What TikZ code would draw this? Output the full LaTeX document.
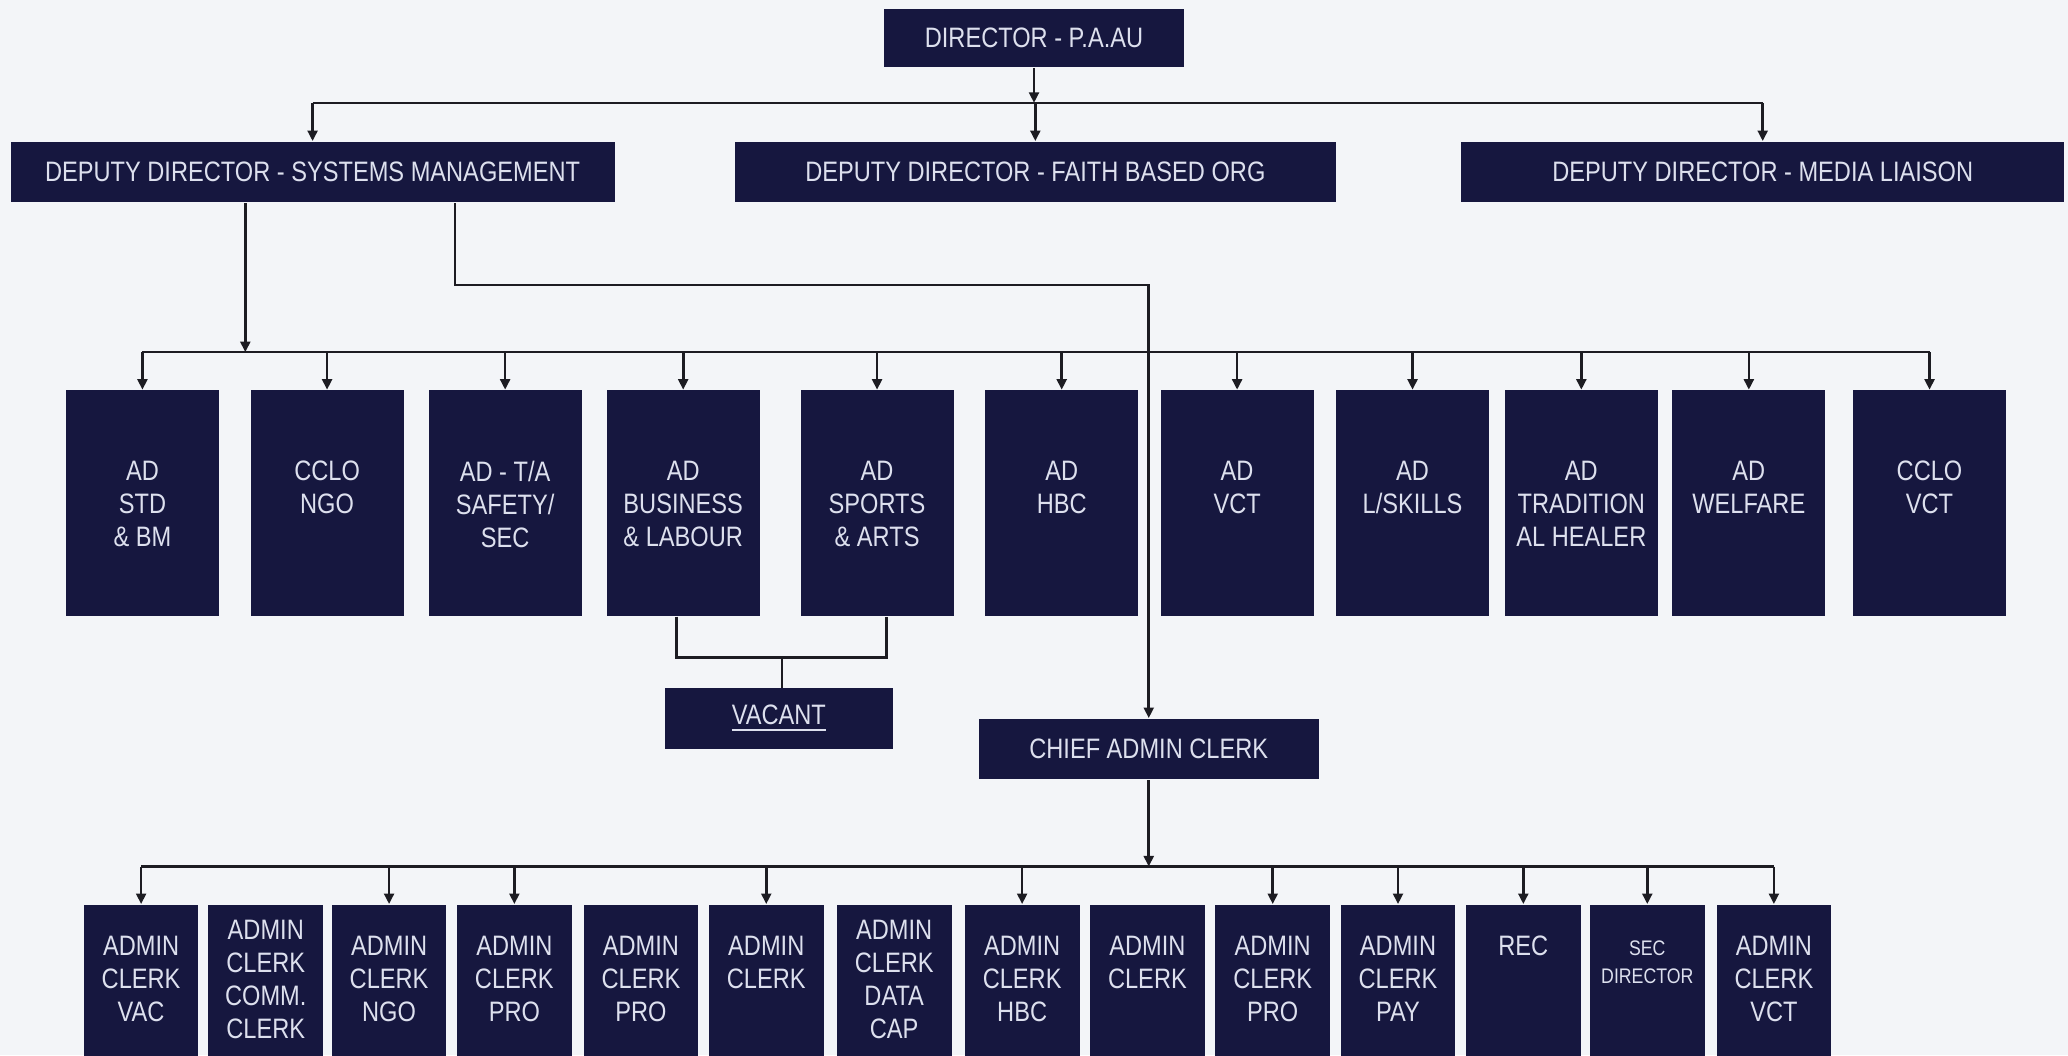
\documentclass[tikz,border=0pt]{standalone}
\usepackage{fontspec}
\setmainfont{Liberation Sans}[FakeStretch=0.84]
\usetikzlibrary{arrows.meta,positioning}
\definecolor{paauNavy}{HTML}{16173F}
\definecolor{paauText}{HTML}{DDE0EE}
\definecolor{paauInk}{HTML}{1C1C22}
\definecolor{paauPaper}{HTML}{F3F5F8}
\newdimen\pxu
\pxu=0.13189mm
\tikzset{
  every picture/.style={font=\fontsize{8}{9.4}\selectfont, text=paauText},
  paau box/.style={fill=paauNavy, inner sep=0pt, align=center},
  paau head/.style={paau box, minimum width=458\pxu, minimum height=46\pxu},
  paau ad/.style={paau box, minimum width=116\pxu, minimum height=171\pxu},
  paau clerk/.style={paau box, minimum width=87\pxu, minimum height=118\pxu},
  paau label/.style={inner sep=0pt, align=center, text=paauText},
  paau tiny/.style={paau label, font=\fontsize{6}{8.2}\selectfont},
  paau line/.style={draw=paauInk, line width=0.75pt},
  paau arrow/.style={paau line, -{Triangle[length=3pt,width=2.8pt]}}
}

\begin{document}
\begin{tikzpicture}[x=\pxu,y=\pxu]
  \useasboundingbox (0,0) rectangle (1568,-800);
  \fill[paauPaper] (0,0) rectangle (1568,-800);
  \node[paau box, minimum width=228\pxu, minimum height=44\pxu] (dir) at (784,-29) {DIRECTOR - P.A.AU};
  \node[paau head] (dd1) at (237,-130.5) {DEPUTY DIRECTOR - SYSTEMS MANAGEMENT};
  \node[paau head, minimum width=456\pxu] (dd2) at (785,-130.5) {DEPUTY DIRECTOR - FAITH BASED ORG};
  \node[paau head, minimum width=457\pxu] (dd3) at (1336.5,-130.5) {DEPUTY DIRECTOR - MEDIA LIAISON};
  \coordinate (top bus) at (0,-78);
  \coordinate (ad bus) at (0,-267);
  \coordinate (clerk bus) at (0,-657);
  \foreach \n/\x/\lbl in {ad1/108/{AD\\STD\\\& BM}, ad2/248/{CCLO\\NGO},
      ad3/383/{AD - T/A\\SAFETY/\\SEC}, ad4/518/{AD\\BUSINESS\\\& LABOUR},
      ad5/665/{AD\\SPORTS\\\& ARTS}, ad6/805/{AD\\HBC}, ad7/938/{AD\\VCT},
      ad8/1071/{AD\\L/SKILLS}, ad9/1199/{AD\\TRADITION\\AL HEALER},
      ad10/1326/{AD\\WELFARE}, ad11/1463/{CCLO\\VCT}} {
    \node[paau ad] (\n) at (\x,-381.5) {};
    \node[paau label, below=53.5\pxu of \n.north] (\n-t) {\lbl};
  }
  \node[paau box, minimum width=173\pxu, minimum height=46\pxu] (vac) at (590.5,-545) {\underline{VACANT}};
  \node[paau box, minimum width=258\pxu, minimum height=46\pxu] (cac) at (871,-568) {CHIEF ADMIN CLERK};
  \foreach \n/\x/\dy/\sty/\lbl in {c1/107/23.5/paau label/{ADMIN\\CLERK\\VAC},
      c2/201.5/11.5/paau label/{ADMIN\\CLERK\\COMM.\\CLERK},
      c3/295/23.5/paau label/{ADMIN\\CLERK\\NGO}, c4/390/23.5/paau label/{ADMIN\\CLERK\\PRO},
      c5/486/23.5/paau label/{ADMIN\\CLERK\\PRO}, c6/581/23.5/paau label/{ADMIN\\CLERK},
      c7/678/11.5/paau label/{ADMIN\\CLERK\\DATA\\CAP}, c8/775/23.5/paau label/{ADMIN\\CLERK\\HBC},
      c9/870/23.5/paau label/{ADMIN\\CLERK}, c10/965/23.5/paau label/{ADMIN\\CLERK\\PRO},
      c11/1060/23.5/paau label/{ADMIN\\CLERK\\PAY}, c12/1155/23.5/paau label/{REC},
      c13/1249/27/paau tiny/{SEC\\DIRECTOR}, c14/1345/23.5/paau label/{ADMIN\\CLERK\\VCT}} {
    \node[paau clerk] (\n) at (\x,-745) {};
    \node[\sty, below=\dy\pxu of \n.north] (\n-t) {\lbl};
  }
  \draw[paau arrow] (dir) -- (dir |- top bus);
  \draw[paau line] (dd1 |- top bus) -- (dd3 |- top bus);
  \foreach \n in {dd1,dd2,dd3}
    \draw[paau arrow] (\n |- top bus) -- (\n.north);
  \draw[paau arrow] ([xshift=-51\pxu]dd1.south) coordinate (sm a) -- (sm a |- ad bus);
  \draw[paau arrow] ([xshift=108\pxu]dd1.south) -- ++(0,-62) -| (cac.north);
  \draw[paau line] (ad1 |- ad bus) -- (ad11 |- ad bus);
  \foreach \i in {1,...,11}
    \draw[paau arrow] (ad\i |- ad bus) -- (ad\i.north);
  \draw[paau line] ([xshift=-5\pxu]ad4.south) -- ++(0,-31) -| ([xshift=7\pxu]ad5.south);
  \draw[paau line] ([xshift=2.5\pxu]vac.north) -- ++(0,24);
  \draw[paau arrow] (cac.south) -- (cac.south |- clerk bus);
  \draw[paau line] (c1 |- clerk bus) -- (c14 |- clerk bus);
  \foreach \i in {1,3,4,6,8,10,11,12,13,14}
    \draw[paau arrow] (c\i |- clerk bus) -- (c\i.north);
\end{tikzpicture}
\end{document}
